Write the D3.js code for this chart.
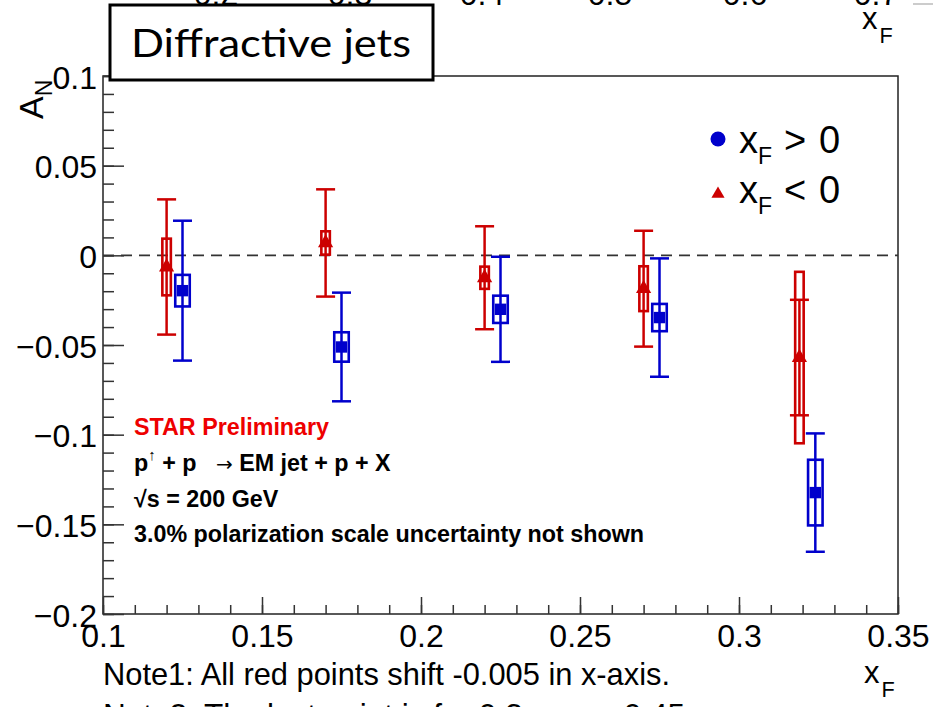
<!DOCTYPE html>
<html>
<head>
<meta charset="utf-8">
<script src="https://cdn.jsdelivr.net/npm/d3@7"></script>
<style>
  html, body { margin: 0; padding: 0; background: #fff; }
  svg { display: block; }
  text { font-family: "Liberation Sans", Arial, Helvetica, sans-serif; }
</style>
</head>
<body>
<svg id="chart" width="933" height="707"></svg>
<script>
// Transverse single-spin asymmetry A_N of diffractive EM jets vs x_F
const xTicks = [0.1, 0.15, 0.2, 0.25, 0.3, 0.35];
const yTicks = [-0.2, -0.15, -0.1, -0.05, 0, 0.05, 0.1];

// x_F > 0 (blue)
const posX    = [0.125, 0.175, 0.225, 0.275, 0.324];
const posVal  = [-0.0197, -0.0511, -0.0301, -0.0347, -0.1323];
const posStat = [0.0390, 0.0303, 0.0293, 0.0330, 0.0330];
const posSys  = [0.0088, 0.0082, 0.0076, 0.0076, 0.0183];

// x_F < 0 (red), shifted by -0.005 in x
const negX    = [0.120, 0.170, 0.220, 0.270, 0.319];
const negVal  = [-0.0065, 0.0069, -0.0125, -0.0186, -0.0570];
const negStat = [0.0377, 0.0299, 0.0287, 0.0323, 0.0322];
const negSys  = [0.0158, 0.0065, 0.0062, 0.0125, 0.0478];

// labels of the panel above, cut by the page edge
const upperTicks = ["0.2", "0.3", "0.4", "0.5", "0.6", "0.7"];
const upperTickX = [216, 350, 482, 610, 745, 876];

const BLUE = "#0000cc";
const RED = "#cc0000";

const svg = d3.select("#chart");
const frame = { left: 103, right: 898, top: 76, bottom: 614 };

const x = d3.scaleLinear().domain([0.1, 0.35]).range([frame.left, frame.right]);
const y = d3.scaleLinear().domain([-0.2, 0.1]).range([frame.bottom, frame.top]);

// ---- remnants of the panel above ----
svg.append("g").selectAll("text").data(upperTicks).join("text")
  .attr("x", (d, i) => upperTickX[i]).attr("y", 5)
  .attr("text-anchor", "middle").attr("font-size", 32).text(d => d);
function xfLabel(g, x0, base, fs) {
  const t = g.append("text").attr("x", x0).attr("y", base).attr("font-size", fs);
  t.append("tspan").text("x");
  t.append("tspan").attr("font-size", fs * 0.7).attr("dy", fs * 0.44).attr("dx", 2).text("F");
  return t;
}
xfLabel(svg, 862, 29, 31);
svg.append("line").attr("x1", 913).attr("x2", 933).attr("y1", 4).attr("y2", 4)
  .attr("stroke", "#bbb").attr("stroke-width", 1.5);

// ---- frame ----
svg.append("rect")
  .attr("x", frame.left).attr("y", frame.top)
  .attr("width", frame.right - frame.left).attr("height", frame.bottom - frame.top)
  .attr("fill", "none").attr("stroke", "#222").attr("stroke-width", 1.5);

// ---- axes (ticks point into the frame) ----
const fmt = d3.format("~g");
const xMinor = svg.append("g").attr("transform", `translate(0,${frame.bottom})`)
  .call(d3.axisBottom(x).ticks(25).tickSize(-9).tickFormat(""));
const xMajor = svg.append("g").attr("transform", `translate(0,${frame.bottom})`)
  .call(d3.axisBottom(x).tickValues(xTicks).tickSize(-17).tickFormat(fmt));
xMajor.selectAll("text").attr("y", 33).attr("dy", 0).attr("font-size", 32)
  .attr("fill", "#000").style("font-family", "Liberation Sans, Arial, sans-serif");

const yMinor = svg.append("g").attr("transform", `translate(${frame.left},0)`)
  .call(d3.axisLeft(y).ticks(30).tickSize(-11).tickFormat(""));
const yMajor = svg.append("g").attr("transform", `translate(${frame.left},0)`)
  .call(d3.axisLeft(y).tickValues(yTicks).tickSize(-21).tickFormat(fmt));
yMajor.selectAll("text").attr("x", -6).attr("dy", 12).attr("font-size", 32)
  .attr("fill", "#000").style("font-family", "Liberation Sans, Arial, sans-serif");

[xMinor, xMajor, yMinor, yMajor].forEach(g => {
  g.select(".domain").remove();
  g.selectAll(".tick line").attr("stroke", "#333").attr("stroke-width", 1.5);
});

// axis titles
const yTitle = svg.append("text").attr("transform", "translate(43,119) rotate(-90)")
  .attr("font-size", 34);
yTitle.append("tspan").text("A");
yTitle.append("tspan").attr("font-size", 23).attr("dy", 9).text("N");
xfLabel(svg, 864, 683, 31);

// zero line
svg.append("line")
  .attr("x1", frame.left).attr("x2", frame.right)
  .attr("y1", y(0)).attr("y2", y(0))
  .attr("stroke", "#333").attr("stroke-width", 1.8).attr("stroke-dasharray", "11,7");

// ---- data points ----
function series(xs, vals, stat, sys, color, boxW, marker) {
  const g = svg.append("g");
  const pts = xs.map((d, i) => ({ x: d, v: vals[i], s: stat[i], u: sys[i] }));
  const capW = 19;
  // systematic boxes
  g.selectAll("rect.sys").data(pts).join("rect").attr("class", "sys")
    .attr("x", d => x(d.x) - boxW / 2).attr("width", boxW)
    .attr("y", d => y(d.v + d.u)).attr("height", d => y(d.v - d.u) - y(d.v + d.u))
    .attr("fill", "none").attr("stroke", color).attr("stroke-width", 2.6);
  // statistical error bars
  g.selectAll("line.err").data(pts).join("line").attr("class", "err")
    .attr("x1", d => x(d.x)).attr("x2", d => x(d.x))
    .attr("y1", d => y(d.v + d.s)).attr("y2", d => y(d.v - d.s))
    .attr("stroke", color).attr("stroke-width", 2.5);
  ["+", "-"].forEach(sgn => {
    g.selectAll("line.cap" + (sgn === "+" ? "t" : "b")).data(pts).join("line")
      .attr("class", "cap" + (sgn === "+" ? "t" : "b"))
      .attr("x1", d => x(d.x) - capW / 2).attr("x2", d => x(d.x) + capW / 2)
      .attr("y1", d => y(sgn === "+" ? d.v + d.s : d.v - d.s))
      .attr("y2", d => y(sgn === "+" ? d.v + d.s : d.v - d.s))
      .attr("stroke", color).attr("stroke-width", 2.5);
  });
  // markers
  g.selectAll("path.mk").data(pts).join("path").attr("class", "mk")
    .attr("transform", d => `translate(${x(d.x)},${y(d.v)})`)
    .attr("d", marker).attr("fill", color);
}
series(negX, negVal, negStat, negSys, RED, 8.5, d3.symbol(d3.symbolTriangle, 100)());
series(posX, posVal, posStat, posSys, BLUE, 14.5, d3.symbol(d3.symbolSquare, 130)());

// ---- legend ----
svg.append("circle").attr("cx", 718).attr("cy", 139).attr("r", 7.5).attr("fill", BLUE);
svg.append("path").attr("transform", "translate(718,194)")
  .attr("d", d3.symbol(d3.symbolTriangle, 75)()).attr("fill", RED);
function legendText(base, sym) {
  const g = svg.append("g").attr("font-size", 38);
  g.append("text").attr("x", 739).attr("y", base).text("x");
  g.append("text").attr("x", 758).attr("y", base + 11).attr("font-size", 23).text("F");
  g.append("text").attr("x", 784).attr("y", base).text(sym);
  g.append("text").attr("x", 819).attr("y", base).text("0");
}
legendText(152.5, ">");
legendText(203, "<");

// ---- annotation ----
const NB = "\u00a0";
const note = svg.append("g").attr("font-weight", "bold").attr("font-size", 23.3);
note.append("text").attr("x", 134).attr("y", 435).attr("fill", "#ee0000").text("STAR Preliminary");
const l2 = note.append("text").attr("x", 134).attr("y", 471).attr("fill", "#000");
l2.append("tspan").text("p");
l2.append("tspan").attr("font-size", 15).attr("font-weight", "normal").attr("dy", -11).text("\u2191");
l2.append("tspan").attr("dy", 11).text(NB + "+" + NB + "p" + NB + NB + NB);
l2.append("tspan").attr("font-weight", "normal").style("font-family", "'DejaVu Sans', sans-serif")
  .attr("font-size", 20).text("\u2192");
l2.append("tspan").text(NB + "EM jet + p + X");
note.append("text").attr("x", 134).attr("y", 506.5).attr("fill", "#000").text("\u221As = 200 GeV");
note.append("text").attr("x", 134).attr("y", 542).attr("fill", "#000")
  .text("3.0% polarization scale uncertainty not shown");

// ---- footnotes ----
svg.append("text").attr("x", 103).attr("y", 685).attr("font-size", 31.5)
  .attr("textLength", 567).attr("lengthAdjust", "spacingAndGlyphs")
  .text("Note1: All red points shift -0.005 in x-axis.");
const n2 = svg.append("text").attr("x", 103).attr("y", 726).attr("font-size", 31.5);
n2.append("tspan").text("Note2: The last point is for 0.3 < x");
n2.append("tspan").attr("font-size", 22).attr("dy", 8).text("F");
n2.append("tspan").attr("dy", -8).text(" < 0.45 range");

// ---- title box ----
svg.append("rect").attr("x", 110).attr("y", 5).attr("width", 323).attr("height", 75)
  .attr("fill", "#fff").attr("stroke", "#000").attr("stroke-width", 3);
svg.append("text").attr("x", 131).attr("y", 57).attr("font-size", 38)
  .style("font-family", "Lato, 'Open Sans', sans-serif")
  .attr("textLength", 280).attr("lengthAdjust", "spacingAndGlyphs")
  .text("Diffractive jets");
</script>
</body>
</html>
